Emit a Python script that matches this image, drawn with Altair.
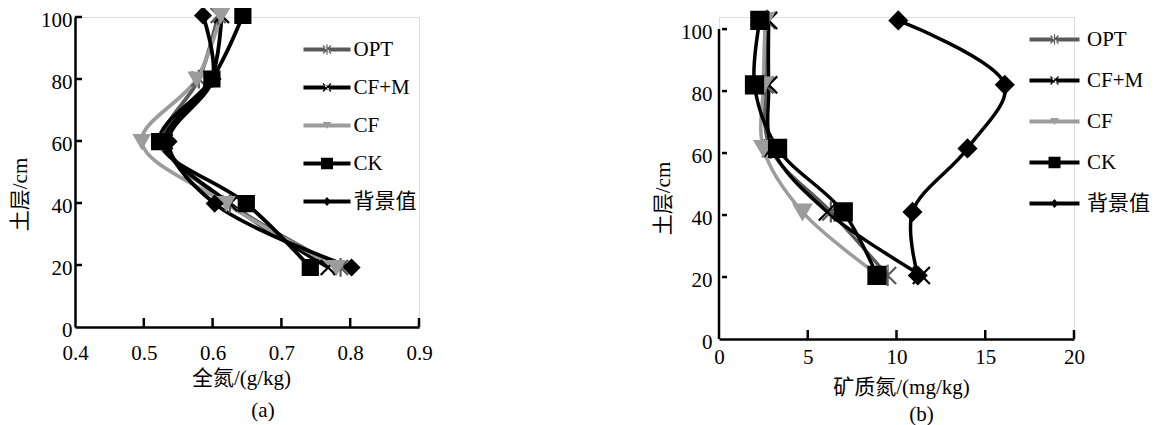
import altair as alt
import pandas as pd

FONT = "'Liberation Serif', 'Noto Sans CJK SC'"

series = ["OPT", "CF+M", "CF", "CK", "背景值"]
colors = ["#5a5a5a", "#000000", "#9c9c9c", "#000000", "#000000"]

# panel (a): total nitrogen g/kg
depth_a = [100.5, 80.0, 59.8, 39.8, 19.2]
tn_opt = [0.608, 0.580, 0.528, 0.625, 0.786]
tn_cfm = [0.613, 0.598, 0.531, 0.625, 0.768]
tn_cf = [0.612, 0.577, 0.497, 0.620, 0.780]
tn_ck = [0.644, 0.599, 0.523, 0.649, 0.742]
tn_bg = [0.586, 0.600, 0.536, 0.603, 0.802]

# panel (b): mineral nitrogen mg/kg
depth_b = [102.8, 82.0, 61.5, 41.0, 20.5]
mn_opt = [2.7, 2.6, 2.9, 6.3, 9.5]
mn_cfm = [2.8, 2.8, 3.0, 6.1, 11.4]
mn_cf = [2.6, 2.5, 2.5, 4.7, 9.0]
mn_ck = [2.3, 2.0, 3.3, 7.0, 8.9]
mn_bg = [10.1, 16.1, 14.0, 10.9, 11.2]

y_ticks = [0, 20, 40, 60, 80, 100]
x_ticks_a = [0.4, 0.5, 0.6, 0.7, 0.8, 0.9]
x_ticks_b = [0, 5, 10, 15, 20]

MARK_PATHS = [
    "M-1,-1L1,1M1,-1L-1,1M0,-1.25L0,1.25",  # asterisk
    "M-1,-1L1,1M1,-1L-1,1",                 # x
    "triangle-down",
    "square",
    "diamond",
]


def legend_paths(h):
    line = f"M{-h},-0.25H{h}V0.25H{-h}Z"
    xbar = ("M-0.55,-0.45L0.45,0.55L0.55,0.45L-0.45,-0.55Z"
            "M0.55,-0.45L-0.45,0.55L-0.55,0.45L0.45,-0.55Z")
    return [
        line + xbar + "M-0.07,-0.65H0.07V0.65H-0.07Z",
        line + xbar,
        line + "M-0.55,-0.45H0.55L0,0.45Z",
        line + "M-0.75,-0.72H0.75V0.72H-0.75Z",
        line + "M0,-0.55L0.5,0L0,0.55L-0.5,0Z",
    ]


def make_df(depth, cols):
    rows = []
    for s, vals in zip(series, cols):
        for d, v in zip(depth, vals):
            rows.append({"series": s, "depth": d, "value": v})
    return pd.DataFrame(rows)


def panel(df, xdom, ydom, w, h, xticks, xfmt, xtitle, sub, msize, lw,
          xlabpad, ylabpad, ytitle_x, ytitle_y, xtitle_x, xtitle_y,
          ytick_lo, ytick_hi, xtick_h, leg, draw_ydomain, sub_dx, sub_off):
    xs = alt.Scale(domain=xdom, nice=False, zero=False)
    ys = alt.Scale(domain=ydom, nice=False, zero=False)
    cscale = alt.Scale(domain=series, range=colors)
    xax = alt.Axis(values=xticks, format=xfmt, labelPadding=xlabpad,
                   title=xtitle, titleX=xtitle_x, titleY=xtitle_y)
    yax = alt.Axis(values=y_ticks, domain=not draw_ydomain,
                   labelPadding=ylabpad, labelOffset=3, title="土层/cm",
                   titleAngle=270, titleX=ytitle_x, titleY=ytitle_y)

    base = alt.Chart(df)
    lines = base.mark_line(interpolate="catmull-rom", strokeWidth=lw).encode(
        x=alt.X("value:Q", scale=xs, axis=xax),
        y=alt.Y("depth:Q", scale=ys, axis=yax),
        color=alt.Color("series:N", scale=cscale, legend=None),
        order=alt.Order("depth:Q"),
        detail="series:N",
    )
    pts = base.mark_point(filled=True, size=msize, strokeWidth=2.2,
                          opacity=1).encode(
        x=alt.X("value:Q"),
        y=alt.Y("depth:Q"),
        color=alt.Color("series:N", scale=cscale, legend=None),
        stroke=alt.Stroke("series:N", scale=cscale, legend=None),
        shape=alt.Shape("series:N",
                        scale=alt.Scale(domain=series, range=MARK_PATHS),
                        legend=None),
    )
    legdf = pd.DataFrame({"series": series})
    lg = dict(orient="none", legendX=leg["x"], legendY=leg["y"], title=None,
              symbolSize=256, symbolStrokeWidth=0, symbolOpacity=1,
              labelOffset=leg["lo"], rowPadding=leg["rp"], padding=0)
    legend_layer = alt.Chart(legdf).transform_filter("false").mark_point(
        filled=True, opacity=1).encode(
        color=alt.Color("series:N", scale=cscale, legend=alt.Legend(**lg)),
        shape=alt.Shape("series:N", scale=alt.Scale(
            domain=series, range=legend_paths(leg["h"])), legend=alt.Legend(**lg)),
    )

    xt = pd.DataFrame({"xv": [t for t in xticks if t != xdom[0]],
                       "y0": ydom[0], "y1": ydom[0] + xtick_h})
    xtick_rules = alt.Chart(xt).mark_rule(color="black", strokeWidth=2.5).encode(
        x=alt.X("xv:Q"), y=alt.Y("y0:Q"), y2="y1:Q")
    yt = pd.DataFrame({"yv": [t for t in y_ticks if t != 0],
                       "x0": ytick_lo, "x1": ytick_hi})
    ytick_rules = alt.Chart(yt).mark_rule(color="black", strokeWidth=2.5).encode(
        y=alt.Y("yv:Q"), x=alt.X("x0:Q"), x2="x1:Q")

    layers = [lines, pts, xtick_rules, ytick_rules]
    if draw_ydomain:
        ydl = pd.DataFrame({"a": [0], "b": [100], "x0": [xdom[0]]})
        layers.append(alt.Chart(ydl).mark_rule(color="black", strokeWidth=2.5).encode(
            x=alt.X("x0:Q"), y=alt.Y("a:Q"), y2="b:Q"))
    layers.append(legend_layer)

    return alt.layer(*layers).resolve_scale(
        color="independent", shape="independent", stroke="independent"
    ).properties(
        width=w, height=h,
        title=alt.TitleParams(sub, orient="bottom", anchor="middle", dx=sub_dx,
                              offset=sub_off, font=FONT, fontSize=21,
                              fontWeight="normal", color="black"),
    )


df_a = make_df(depth_a, [tn_opt, tn_cfm, tn_cf, tn_ck, tn_bg])
df_b = make_df(depth_b, [mn_opt, mn_cfm, mn_cf, mn_ck, mn_bg])

left = panel(df_a, [0.4, 0.9], [0, 100], 344, 310, x_ticks_a, ".1f",
             "全氮/(g/kg)", "(a)", 225, 3.8,
             xlabpad=15, ylabpad=3, ytitle_x=-55, ytitle_y=177,
             xtitle_x=166, xtitle_y=51,
             ytick_lo=0.4, ytick_hi=0.4102, xtick_h=2.9,
             leg={"x": 241.5, "y": 22, "lo": 16, "rp": 16, "h": 2.94},
             draw_ydomain=False, sub_dx=16, sub_off=12)

right = panel(df_b, [0, 20], [0, 103.9], 355, 322, x_ticks_b, "d",
              "矿质氮/(mg/kg)", "(b)", 290, 3.5,
              xlabpad=7, ylabpad=7, ytitle_x=-56, ytitle_y=181,
              xtitle_x=182, xtitle_y=48,
              ytick_lo=0.17, ytick_hi=0.45, xtick_h=2.9,
              leg={"x": 325, "y": 12, "lo": 22, "rp": 19, "h": 3.125},
              draw_ydomain=True, sub_dx=25, sub_off=7)

chart = alt.hconcat(left, right, spacing=300, bounds="flush").properties(
    padding={"left": 0, "top": -7, "right": 0, "bottom": 0},
).configure_view(stroke=None).configure(
    background="white"
).configure_axis(
    ticks=False, grid=False, domainColor="black", domainWidth=2.5,
    labelFont=FONT, labelFontSize=21, labelColor="black",
    labelFlush=False, labelOverlap=False,
    titleFont=FONT, titleFontSize=21, titleFontWeight="normal",
    titleColor="black", titleAlign="center", titleBaseline="middle",
).configure_legend(
    labelFont=FONT, labelFontSize=21, labelColor="black",
)

chart.save("out.html", embed_options={"renderer": "svg", "actions": False})
